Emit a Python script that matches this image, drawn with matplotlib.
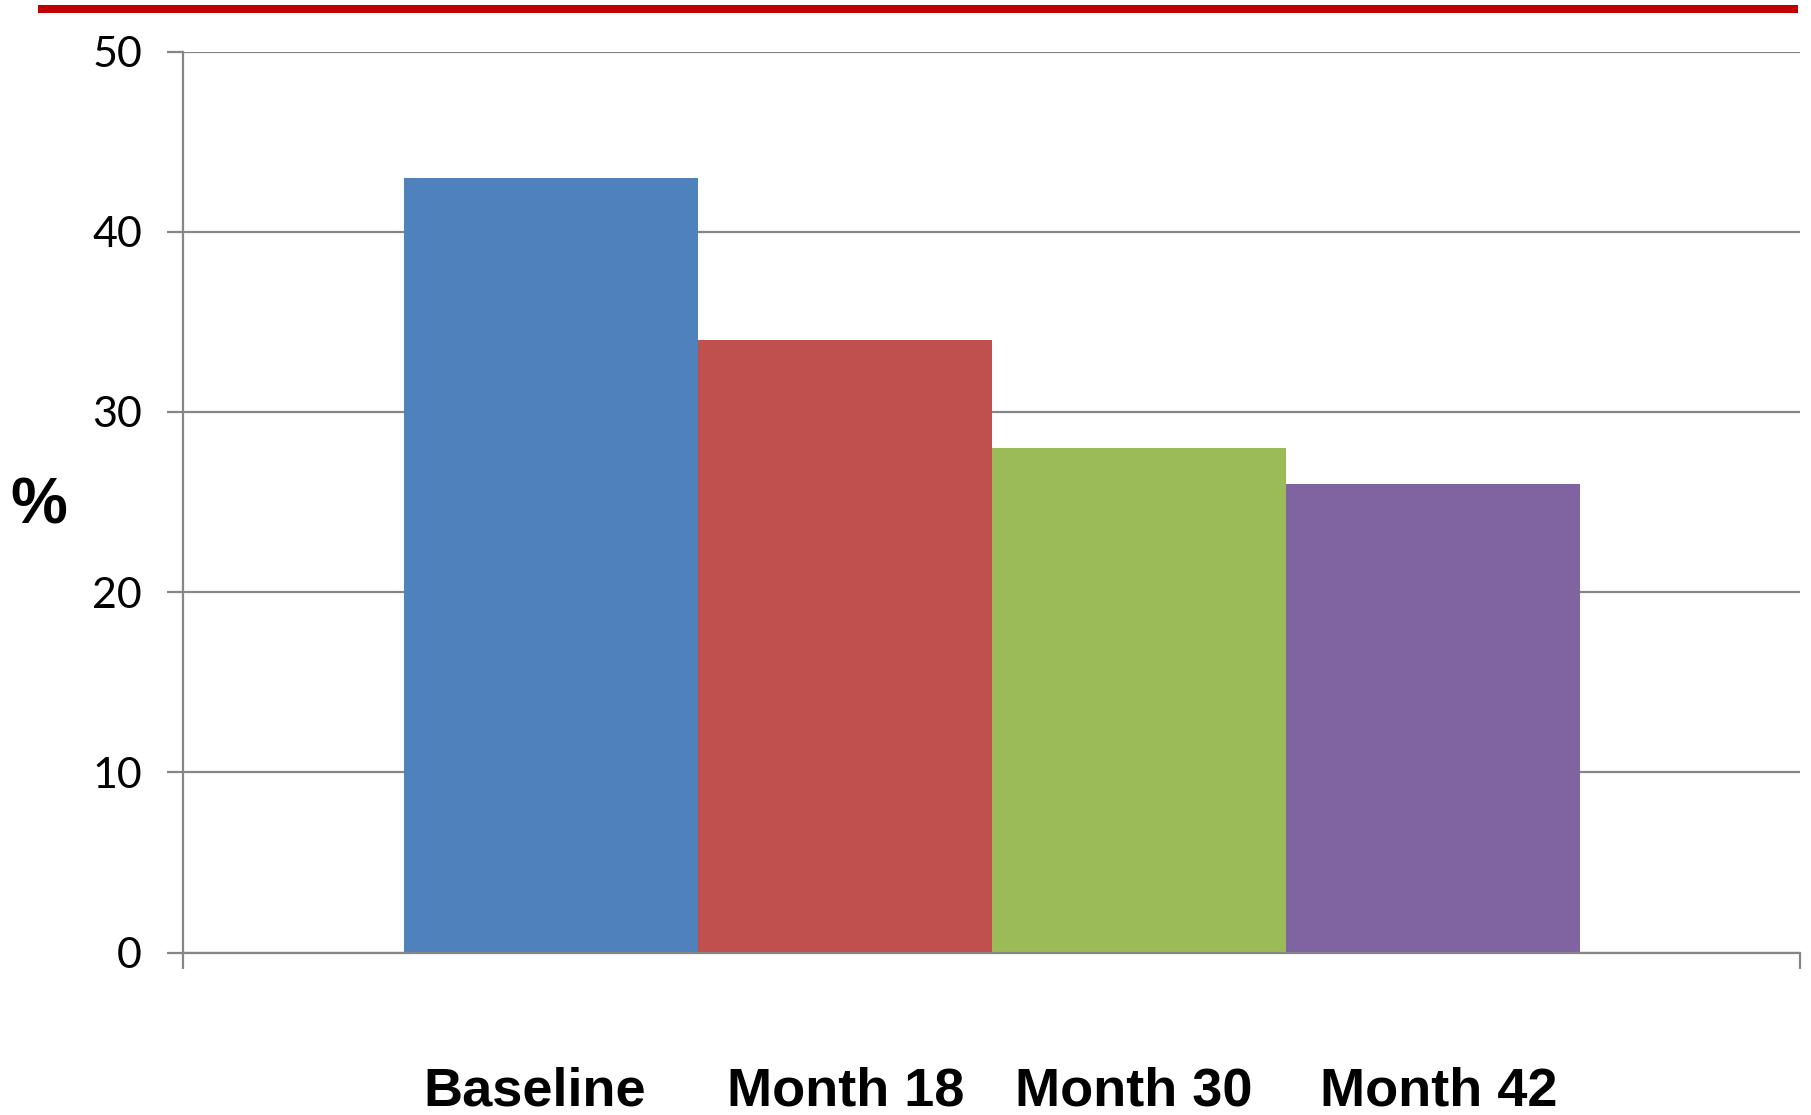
import matplotlib.pyplot as plt
from matplotlib.patches import Rectangle

categories = ['Baseline', 'Month 18', 'Month 30', 'Month 42']
values = [43, 34, 28, 26]
colors = ['#4F81BD', '#C0504D', '#9BBB59', '#8064A2']
yticks = [0, 10, 20, 30, 40, 50]

# label x centres in figure pixels
label_x = [535, 846, 1134, 1439]

W, H = 1811, 1115
fig = plt.figure(figsize=(W / 100, H / 100), dpi=100)
ax = fig.add_axes([183 / W, 1 - 952.7 / H, (1800 - 183) / W, (952.7 - 51.5) / H])

grey = '#868686'
x = range(len(values))
ax.bar(x, values, width=1.0, color=colors, zorder=3)

ax.set_xlim(-1.25, len(values) + 0.25)
ax.set_ylim(0, 50)
ax.set_yticks(yticks)
ax.set_yticklabels([str(v) for v in yticks], fontsize=31, family='Lato')
ax.set_xticks([-1.25, len(values) + 0.25])
ax.set_xticklabels(['', ''])

ax.yaxis.grid(True, color=grey, linewidth=1.6, zorder=0)
ax.tick_params(axis='y', length=11.5, width=1.6, color=grey, pad=18, labelcolor='black')
ax.tick_params(axis='x', length=11.5, width=1.6, color=grey, direction='out')
for s in ['top', 'right']:
    ax.spines[s].set_visible(False)
for s in ['left', 'bottom']:
    ax.spines[s].set_color(grey)
    ax.spines[s].set_linewidth(1.6)
    ax.spines[s].set_zorder(4)

for lx, name in zip(label_x, categories):
    fig.text(lx / W, 1 - 1091 / H, name, ha='center', va='center',
             fontsize=39, fontweight='bold', family='Liberation Sans')

fig.text(39 / W, 1 - 506 / H, '%', ha='center', va='center',
         fontsize=46, fontweight='bold', family='Liberation Sans')

# red rule across the top
fig.add_artist(Rectangle((38 / W, 1 - 13 / H), (1798 - 38) / W, 8 / H,
                         transform=fig.transFigure, color='#C00000', lw=0))

fig.savefig('out.png', dpi=100)
